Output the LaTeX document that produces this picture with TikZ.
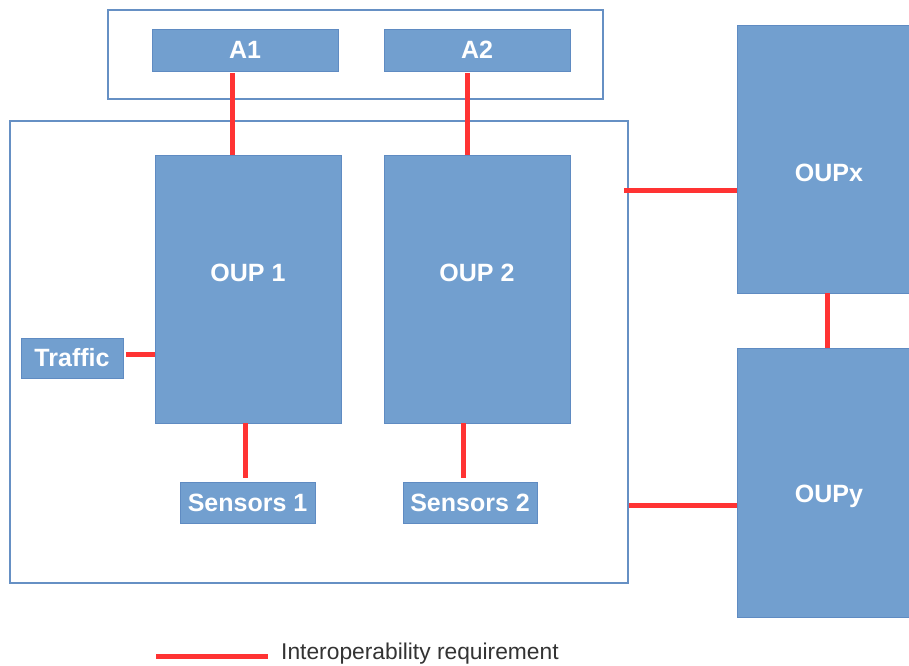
\documentclass[tikz,border=0pt]{standalone}
\usepackage{fontspec}
\setmainfont{Liberation Sans}
\begin{document}
\begin{tikzpicture}[x=1pt,y=-1pt,
  blk/.style={fill=boxfill, draw=boxedge, line width=0.9pt, inner sep=0pt,
    text=white, font=\bfseries\fontsize{25}{29}\selectfont},
  lbl/.style={text=white, font=\bfseries\fontsize{25}{29}\selectfont},
  frame/.style={draw=frameedge, line width=1.1pt, inner sep=0pt},
  req/.style={draw=reqred, line width=5pt}]
\definecolor{boxfill}{HTML}{729FCF}
\definecolor{boxedge}{HTML}{5F8BC2}
\definecolor{frameedge}{HTML}{6690C4}
\definecolor{reqred}{HTML}{FF3333}
\definecolor{legendtext}{HTML}{333333}
\useasboundingbox (0,0) rectangle (909,665);
\fill[white] (0,0) rectangle (909,665);
\clip (0,0) rectangle (909,665);

% outer frames
\node[frame, minimum width=495pt, minimum height=89pt] (topframe) at (355.5,54.5) {};
\node[frame, minimum width=618pt, minimum height=462pt] (mainframe) at (319,352) {};

% application boxes
\node[blk, minimum width=186pt, minimum height=42pt] (a1) at (245,50) {A1};
\node[blk, minimum width=186pt, minimum height=42pt] (a2) at (477,50) {A2};

% platform boxes
\node[blk, minimum width=186pt, minimum height=268pt,
  label={[lbl, yshift=16pt]center:OUP 1}] (oup1) at (248,289) {};
\node[blk, minimum width=186pt, minimum height=268pt,
  label={[lbl, yshift=16pt]center:OUP 2}] (oup2) at (477,289) {};
\node[blk, minimum width=184pt, minimum height=268pt,
  label={[lbl, yshift=-14pt]center:OUPx}] (oupx) at (829,159) {};
\node[blk, minimum width=184pt, minimum height=269pt,
  label={[lbl, yshift=-14pt]center:OUPy}] (oupy) at (829,482.5) {};

% peripherals
\node[blk, minimum width=102pt, minimum height=40pt] (traffic) at (72,358) {Traffic};
\node[blk, minimum width=135pt, minimum height=41pt] (sens1) at (247.5,502.5) {Sensors 1};
\node[blk, minimum width=134pt, minimum height=41pt] (sens2) at (470,502.5) {Sensors 2};

% anchor columns / rows for the links
\coordinate (xa1) at (232,0);
\coordinate (xa2) at (467,0);
\coordinate (xs1) at (245,0);
\coordinate (xs2) at (463,0);
\coordinate (xxy) at (827,0);
\coordinate (ytr) at (0,354);
\coordinate (ex) at (624,190);
\coordinate (ey) at (629,505);

% interoperability links
\draw[req, shorten <=2pt] (a1.south -| xa1) -- (oup1.north -| xa1);
\draw[req, shorten <=2pt] (a2.south -| xa2) -- (oup2.north -| xa2);
\draw[req, shorten <=3pt] (traffic.east |- ytr) -- (oup1.west |- ytr);
\draw[req, shorten >=4pt] (oup1.south -| xs1) -- (sens1.north -| xs1);
\draw[req, shorten >=4pt] (oup2.south -| xs2) -- (sens2.north -| xs2);
\draw[req] (ex) -- (oupx.west |- ex);
\draw[req] (ey) -- (oupy.west |- ey);
\draw[req] (oupx.south -| xxy) -- (oupy.north -| xxy);

% legend
\coordinate (leg0) at (156,656);
\coordinate (leg1) at (268,656);
\draw[req] (leg0) -- (leg1);
\node[anchor=west, inner sep=0pt, text=legendtext,
  font=\fontsize{22.8}{26}\selectfont] (legtext) at (281,654) {Interoperability requirement};
\end{tikzpicture}
\end{document}
